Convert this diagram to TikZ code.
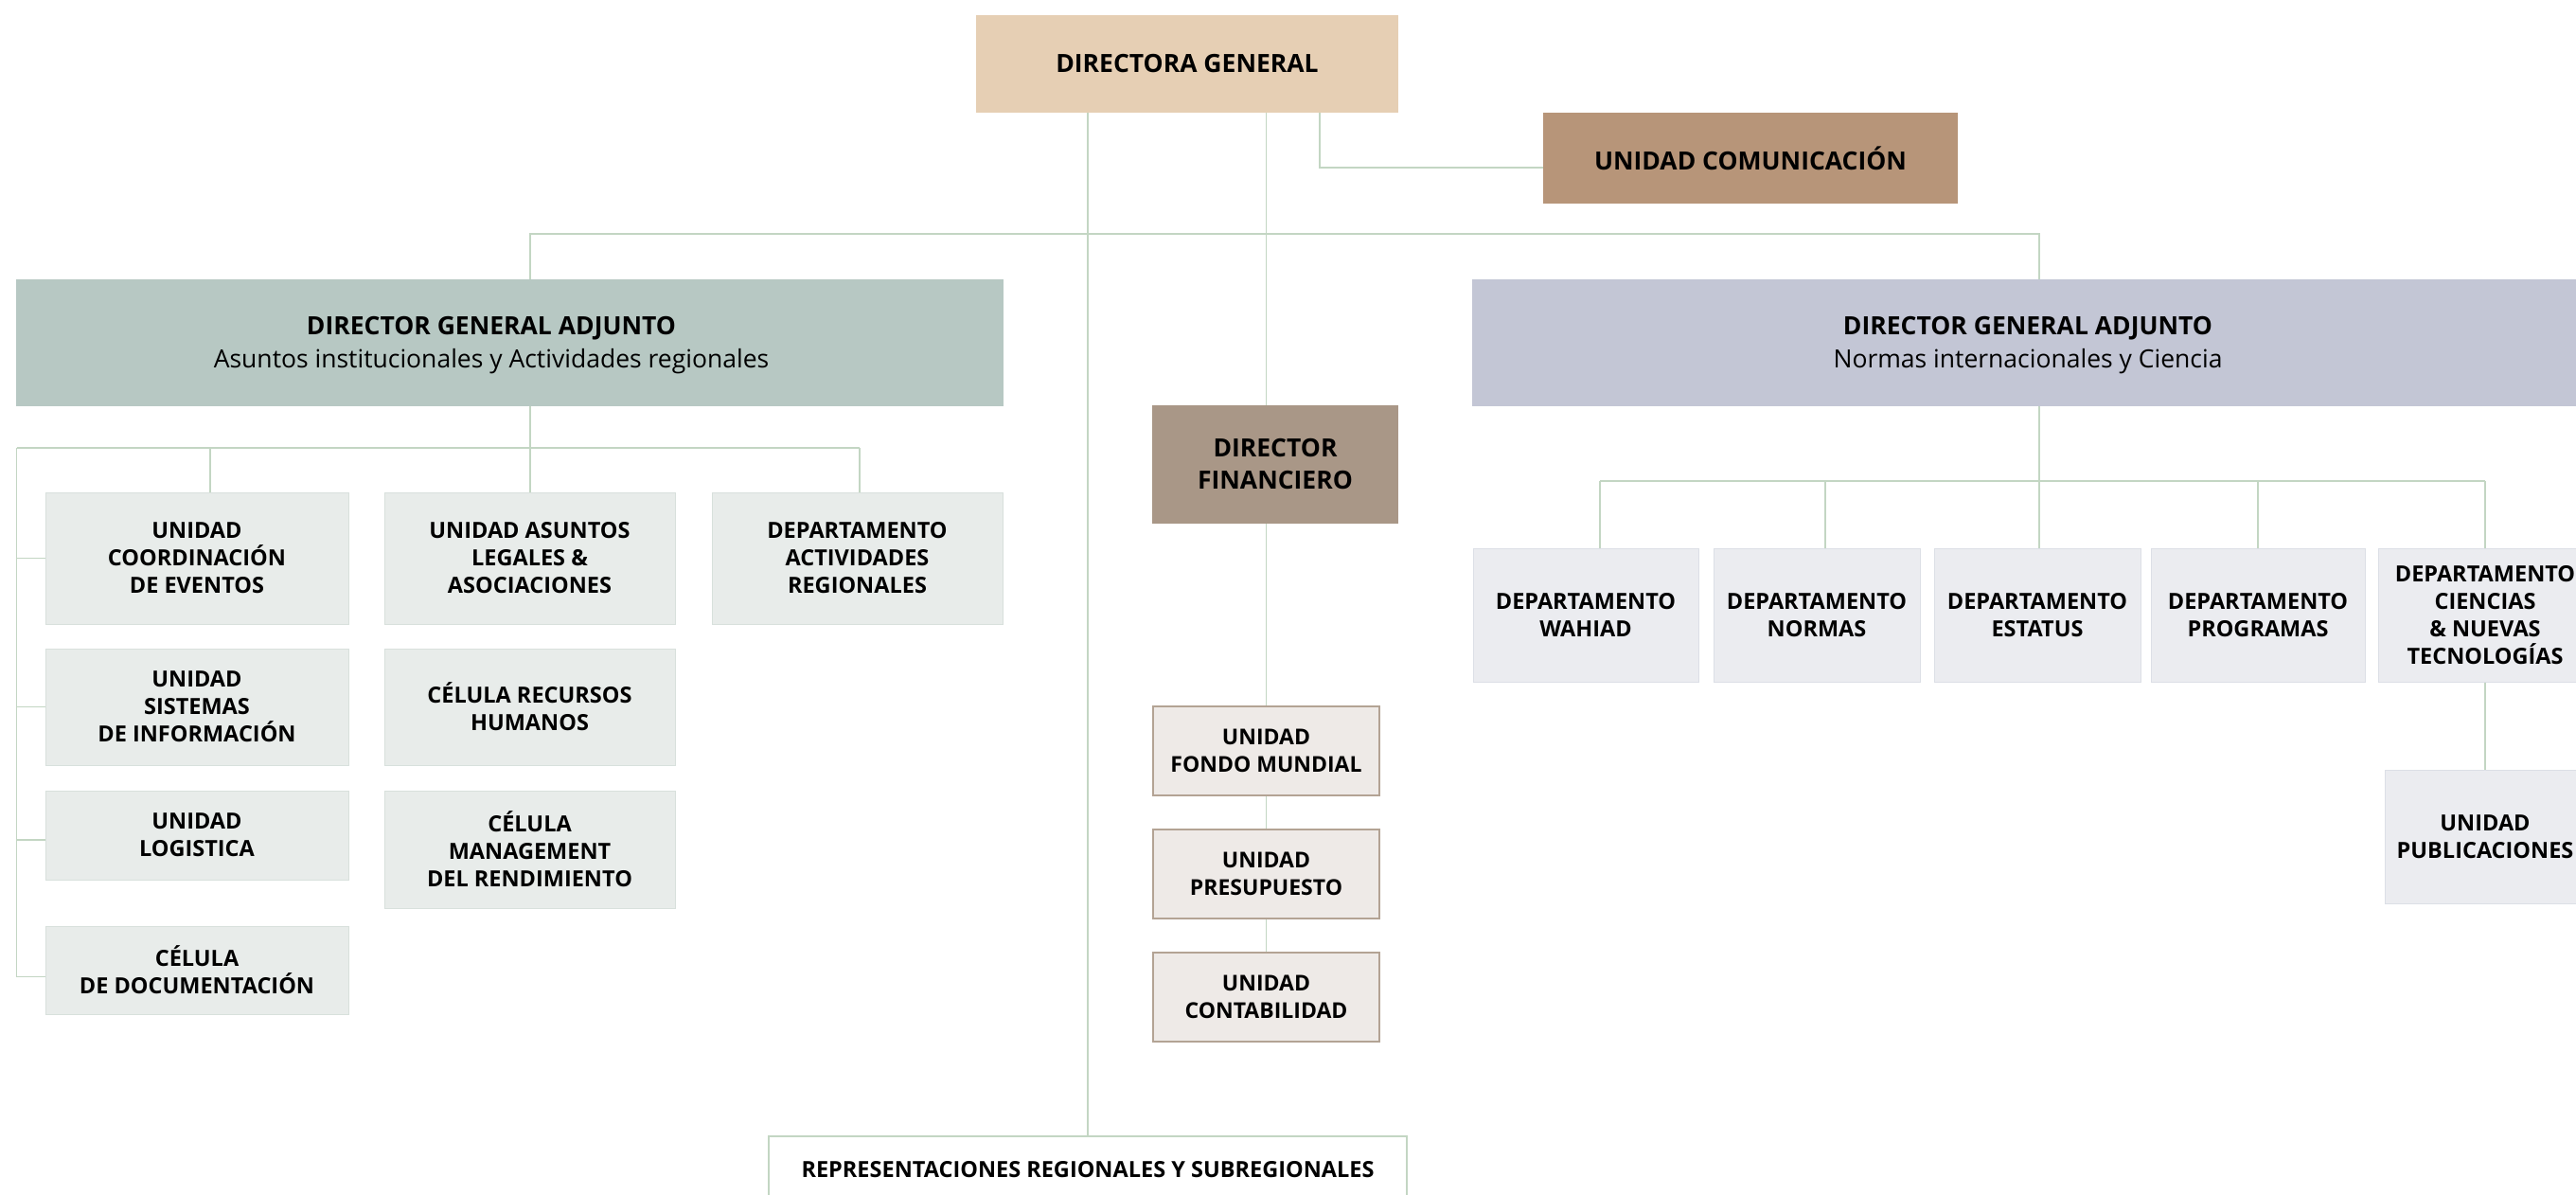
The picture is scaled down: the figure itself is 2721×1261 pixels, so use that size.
\documentclass[tikz,border=0pt]{standalone}
\usepackage{fontspec}
\setmainfont{Open Sans}

\definecolor{dgcol}{HTML}{E6CFB4}
\definecolor{uccol}{HTML}{B79579}
\definecolor{leftcol}{HTML}{B7C8C3}
\definecolor{rightcol}{HTML}{C3C6D5}
\definecolor{dfcol}{HTML}{A99787}
\definecolor{lboxcol}{HTML}{E8ECEA}
\definecolor{lboxline}{HTML}{D8E0DC}
\definecolor{rboxcol}{HTML}{EBECF0}
\definecolor{rboxline}{HTML}{DCDFE6}
\definecolor{fboxcol}{HTML}{EEEAE7}
\definecolor{fboxline}{HTML}{B3A394}
\definecolor{linecol}{HTML}{C3D6C3}

\tikzset{
  link/.style={draw=linecol,line width=1.5pt},
}

\begin{document}
\begin{tikzpicture}[x=1pt,y=-1pt]

      \useasboundingbox (0,0) rectangle (2721,1261);

      % top of the chart
      \begin{scope}[every node/.style={rectangle,inner sep=0pt,align=center,font=\fontsize{26.5}{34}\selectfont\bfseries}]
        \node[fill=dgcol,minimum width=446pt,minimum height=103pt] (dg) at (1254,67.5) {DIRECTORA GENERAL};
        \node[fill=uccol,minimum width=438pt,minimum height=96pt] (uc) at (1849,167) {UNIDAD COMUNICACIÓN};
        \node[fill=dfcol,minimum width=260pt,minimum height=125pt] (df) at (1347,490.5) {DIRECTOR\\FINANCIERO};
        \node[fill=leftcol,minimum width=1043pt,minimum height=134pt,
              label={[font=\fontsize{26.5}{35}\selectfont,xshift=-19.5pt,yshift=-3pt]center:{\textbf{DIRECTOR GENERAL ADJUNTO}\\Asuntos institucionales y Actividades regionales}}]
              (dgaL) at (538.5,362) {};
        \node[fill=rightcol,minimum width=1174pt,minimum height=134pt,font=\fontsize{26.5}{35}\selectfont,text depth=2pt] (dgaR) at (2142,362)
          {\textbf{DIRECTOR GENERAL ADJUNTO}\\Normas internacionales y Ciencia};
      \end{scope}

      % boxes under the adjuncts
      \begin{scope}[every node/.style={rectangle,inner sep=0pt,align=center,font=\fontsize{23.5}{29}\selectfont\bfseries}]
        \begin{scope}[every node/.append style={fill=lboxcol,draw=lboxline,line width=1pt}]
          \node[minimum width=320pt,minimum height=139pt] (ucoord) at (208,589.5)   {UNIDAD\\COORDINACIÓN\\DE EVENTOS};
          \node[minimum width=320pt,minimum height=123pt] (usis)   at (208,746.5)   {UNIDAD\\SISTEMAS\\DE INFORMACIÓN};
          \node[minimum width=320pt,minimum height=94pt]  (ulog)   at (208,882)     {UNIDAD\\LOGISTICA};
          \node[minimum width=320pt,minimum height=93pt]  (cdoc)   at (208,1024.5)  {CÉLULA\\DE DOCUMENTACIÓN};
          \node[minimum width=307pt,minimum height=139pt] (uasun)  at (559.5,589.5) {UNIDAD ASUNTOS\\LEGALES \&\\ASOCIACIONES};
          \node[minimum width=307pt,minimum height=123pt] (crrhh)  at (559.5,746.5) {CÉLULA RECURSOS\\HUMANOS};
          \node[minimum width=307pt,minimum height=124pt] (cman)   at (559.5,897)   {CÉLULA\\MANAGEMENT\\DEL RENDIMIENTO};
          \node[minimum width=307pt,minimum height=139pt] (dact)   at (905.5,589.5) {DEPARTAMENTO\\ACTIVIDADES\\REGIONALES};
        \end{scope}
        \begin{scope}[every node/.append style={fill=rboxcol,draw=rboxline,line width=1pt,minimum height=141pt}]
          \node[minimum width=238pt] (dwah)  at (1675,649.5) {DEPARTAMENTO\\WAHIAD};
          \node[minimum width=218pt] (dnor)  at (1919,649.5) {DEPARTAMENTO\\NORMAS};
          \node[minimum width=218pt] (dest)  at (2152,649.5) {DEPARTAMENTO\\ESTATUS};
          \node[minimum width=226pt] (dprog) at (2385,649.5) {DEPARTAMENTO\\PROGRAMAS};
          \node[minimum width=226pt] (dcie)  at (2625,649.5) {DEPARTAMENTO\\CIENCIAS\\\& NUEVAS\\TECNOLOGÍAS};
          \node[minimum width=212pt] (upub)  at (2625,883.5) {UNIDAD\\PUBLICACIONES};
        \end{scope}
        \begin{scope}[every node/.append style={fill=fboxcol,draw=fboxline,line width=2pt,minimum width=239pt,minimum height=94pt,font=\fontsize{23}{29}\selectfont\bfseries}]
          \node (fondo) at (1337.5,793)  {UNIDAD\\FONDO MUNDIAL};
          \node (presu) at (1337.5,923)  {UNIDAD\\PRESUPUESTO};
          \node (conta) at (1337.5,1053) {UNIDAD\\CONTABILIDAD};
        \end{scope}
        \node[fill=white,draw=linecol,line width=1.5pt,minimum width=674pt,minimum height=70pt] (rep) at (1149,1235)
          {REPRESENTACIONES REGIONALES Y SUBREGIONALES};
      \end{scope}

      % bus points
      \coordinate (tbusL)  at (560,247);
      \coordinate (tbusR)  at (2154,247);
      \coordinate (ucx)    at (1394,177);
      \coordinate (lspine) at (17.5,473);
      \coordinate (lb1)    at (222,473);
      \coordinate (lbus)   at (560,473);
      \coordinate (lb3)    at (908,473);
      \coordinate (rb1)    at (1690,508);
      \coordinate (rb2)    at (1928,508);
      \coordinate (rbus)   at (2154,508);
      \coordinate (rb4)    at (2385,508);
      \coordinate (rb5)    at (2625,508);

      % connectors
      \draw[link] (tbusL |- dgaL.north) -- (tbusL) -- (tbusR) -- (tbusR |- dgaR.north);
      \draw[link] (rep.north |- dg.south) -- (rep.north);
      \draw[link] (fondo.north |- dg.south) -- (fondo.north |- df.north);
      \draw[link] (fondo.north |- df.south) -- (fondo.north);
      \draw[link] (ucx |- dg.south) -- (ucx) -- (ucx -| uc.west);

      \draw[link] (lbus |- dgaL.south) -- (lbus);
      \draw[link] (lspine) -- (lb3);
      \draw[link] (lb1) -- (lb1 |- ucoord.north);
      \draw[link] (lbus) -- (lbus |- uasun.north);
      \draw[link] (lb3) -- (lb3 |- dact.north);
      \draw[link] (lspine) |- (ucoord.west);
      \draw[link] (lspine) |- (usis.west);
      \draw[link] (lspine) |- ([yshift=-5pt]ulog.west);
      \draw[link] (lspine) |- ([yshift=-7pt]cdoc.west);

      \draw[link] (rbus |- dgaR.south) -- (rbus);
      \draw[link] (rb1) -- (rb5);
      \draw[link] (rb1) -- (rb1 |- dwah.north);
      \draw[link] (rb2) -- (rb2 |- dnor.north);
      \draw[link] (rbus) -- (rbus |- dest.north);
      \draw[link] (rb4) -- (rb4 |- dprog.north);
      \draw[link] (rb5) -- (rb5 |- dcie.north);

      \begin{scope}[every edge/.style={link}]
        \path (fondo) edge (presu);
        \path (presu) edge (conta);
        \path (dcie)  edge (upub);
      \end{scope}

\end{tikzpicture}
\end{document}
